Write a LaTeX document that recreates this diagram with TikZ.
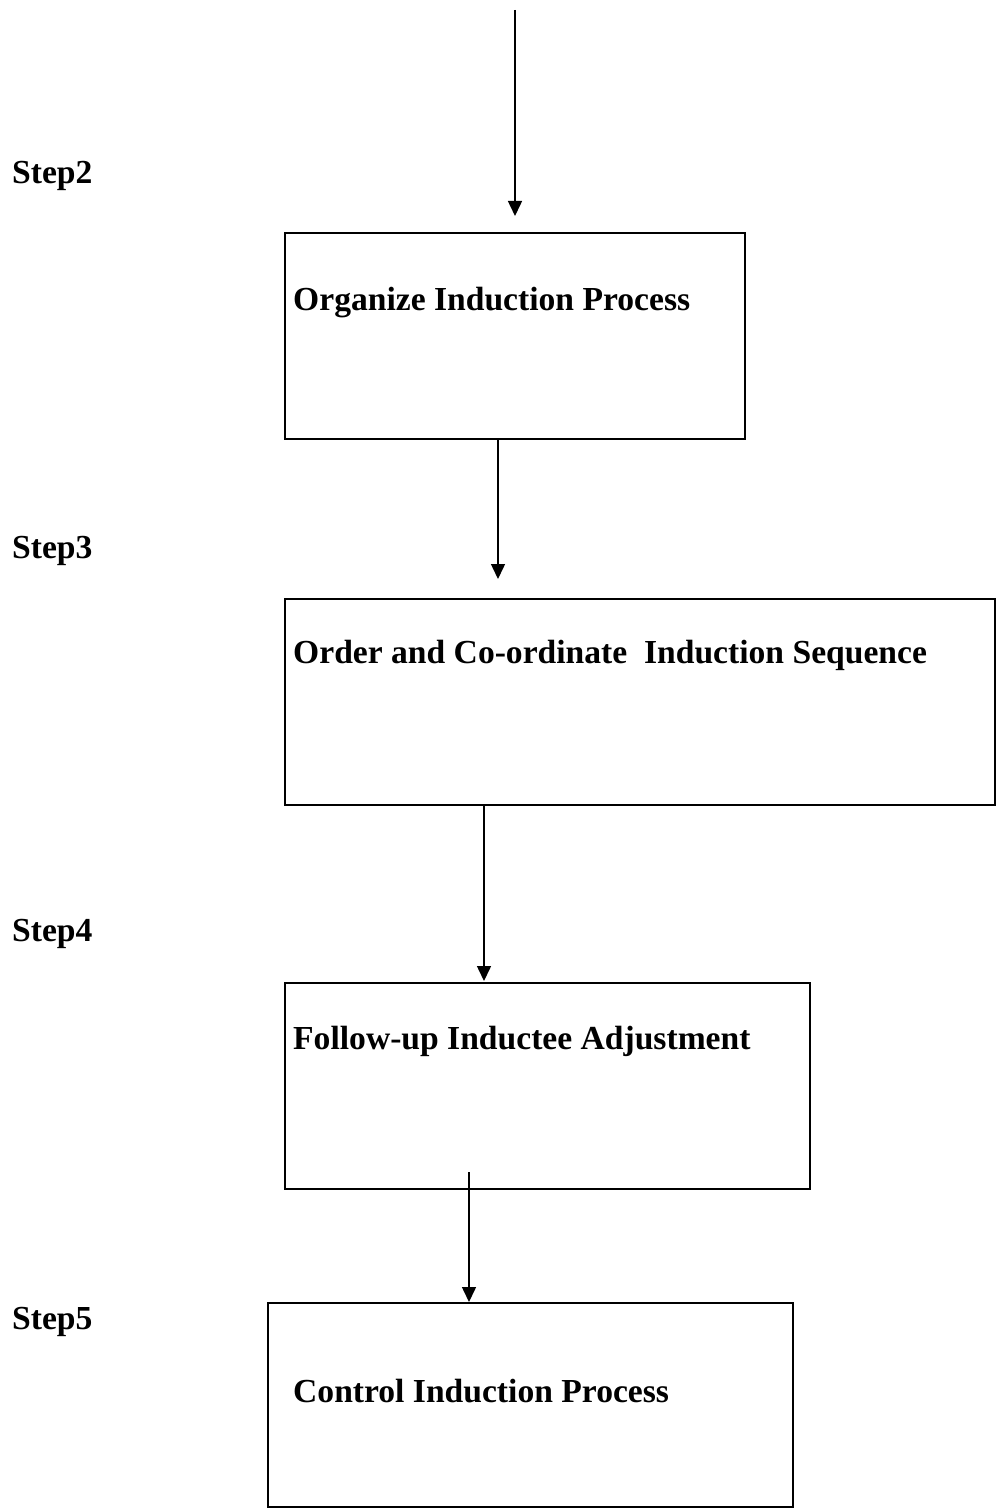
\documentclass[tikz,border=0pt]{standalone}
\usepackage{fontspec}
\setmainfont{Liberation Serif}
\usetikzlibrary{arrows.meta}
\begin{document}
\begin{tikzpicture}[x=1pt,y=-1pt,
  stepbox/.style={draw, line width=1.8pt, inner sep=0pt, anchor=north west},
  boxtext/.style={anchor=base west, inner sep=0pt, font=\fontsize{33.6}{40}\selectfont\bfseries},
  steplabel/.style={anchor=base west, inner sep=0pt, font=\fontsize{33.6}{40}\selectfont\bfseries},
  arr/.style={line width=1.5pt, -{Triangle[width=14pt,length=15pt]}}]
\useasboundingbox (0,0) rectangle (996,1511);

% step labels
\node[steplabel] (s2) at (12,184) {Step2};
\node[steplabel] (s3) at (12,558) {Step3};
\node[steplabel] (s4) at (12,941) {Step4};
\node[steplabel] (s5) at (12,1329) {Step5};

% process boxes
\node[stepbox, minimum width=460pt, minimum height=206pt] (b1) at (284,232) {};
\node[stepbox, minimum width=710pt, minimum height=206pt] (b2) at (284,598) {};
\node[stepbox, minimum width=525pt, minimum height=206pt] (b3) at (284,982) {};
\node[stepbox, minimum width=525pt, minimum height=204pt] (b4) at (267,1302) {};

% box captions
\node[boxtext] (t1) at (293,311) {Organize Induction Process};
\node[boxtext] (t2) at (293,663) {Order and Co-ordinate\ \ Induction Sequence};
\node[boxtext] (t3) at (293,1049) {Follow-up Inductee Adjustment};
\node[boxtext] (t4) at (293,1402) {Control Induction Process};

% connectors
\coordinate (a1s) at (515,10);
\coordinate (a2s) at (498,438);
\coordinate (a3s) at (484,804);
\coordinate (a4s) at (469,1172);
\draw[arr, shorten >=16pt] (a1s) -- (a1s |- b1.north);
\draw[arr, shorten >=19pt] (a2s) -- (a2s |- b2.north);
\draw[arr, shorten >=1pt] (a3s) -- (a3s |- b3.north);
\draw[arr] (a4s) -- (a4s |- b4.north);
\end{tikzpicture}
\end{document}
